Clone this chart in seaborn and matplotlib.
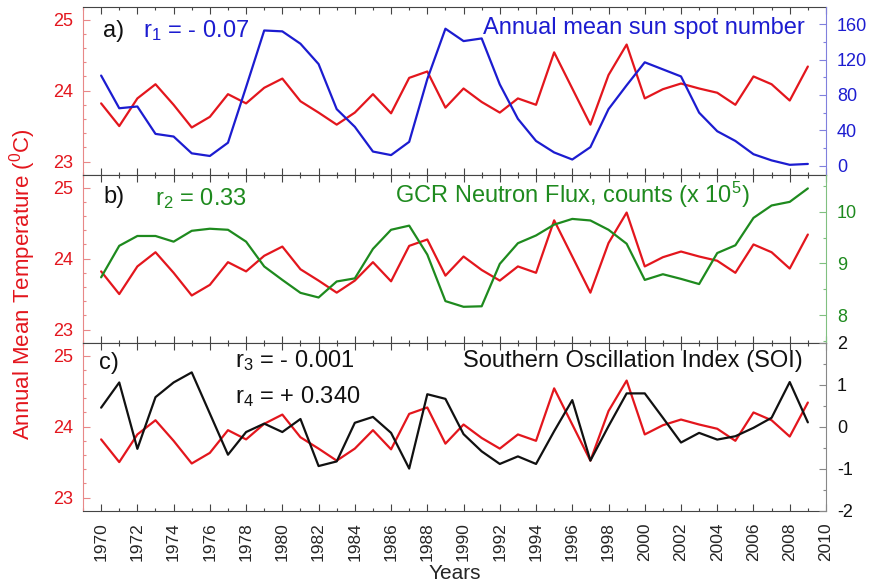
import matplotlib
matplotlib.use("Agg")
import matplotlib.pyplot as plt
from matplotlib.ticker import MultipleLocator
import seaborn as sns

# Values
years = list(range(1970, 2010))
temperature = [23.82, 23.50, 23.89, 24.09, 23.80, 23.48, 23.63, 23.95, 23.82, 24.04,
               24.17, 23.85, 23.69, 23.52, 23.69, 23.95, 23.68, 24.18, 24.27, 23.76,
               24.03, 23.84, 23.69, 23.89, 23.80, 24.54, 24.03, 23.52, 24.22, 24.65,
               23.89, 24.02, 24.10, 24.03, 23.97, 23.80, 24.20, 24.09, 23.86, 24.34]
sunspots = [102, 65, 67, 36, 33, 14, 11, 26, 89, 153,
            152, 138, 115, 64, 44, 16, 12, 27, 98, 155,
            141, 144, 92, 53, 28, 15, 7, 21, 64, 91,
            117, 109, 101, 60, 39, 28, 13, 6, 1, 2]
gcr_flux = [8.73, 9.34, 9.53, 9.53, 9.42, 9.63, 9.67, 9.65, 9.42, 8.94,
            8.68, 8.43, 8.34, 8.65, 8.71, 9.28, 9.65, 9.73, 9.17, 8.27,
            8.16, 8.17, 8.99, 9.39, 9.54, 9.75, 9.86, 9.83, 9.65, 9.38,
            8.68, 8.79, 8.70, 8.60, 9.20, 9.35, 9.88, 10.12, 10.19, 10.45]
soi = [0.46, 1.06, -0.52, 0.71, 1.06, 1.30, 0.32, -0.66, -0.12, 0.08,
       -0.12, 0.19, -0.93, -0.82, 0.10, 0.24, -0.14, -0.99, 0.78, 0.67,
       -0.17, -0.58, -0.88, -0.70, -0.88, -0.10, 0.64, -0.80, 0.02, 0.80,
       0.80, 0.22, -0.37, -0.14, -0.30, -0.22, -0.02, 0.22, 1.07, 0.11]

sns.set_style("ticks")
plt.rcParams["font.family"] = ["Liberation Sans", "DejaVu Sans"]
plt.rcParams["mathtext.default"] = "regular"
plt.rcParams["axes.unicode_minus"] = False

RED = "#e3161d"
BLUE = "#1c1cd0"
GREEN = "#1e8a1e"
BLACK = "#111111"

fig = plt.figure(figsize=(8.71, 5.86), dpi=100)
left, width, height = 0.0953, 0.853, 0.2867
bottoms = [0.7014, 0.4147, 0.128]
axes = [fig.add_axes([left, b, width, height]) for b in bottoms]

# (data, line colour, spine colour, ylim, major step, minor step)
panels = [
    (sunspots, BLUE, "#8080dd", (-10.5, 179.6), 40, 20),
    (gcr_flux, GREEN, "#80c080", (7.46, 10.71), 1, 0.5),
    (soi, BLACK, "#888888", (-2, 2), 1, 0.5),
]

for i, (ax, (data, col, spine_col, ylim, major, minor)) in enumerate(zip(axes, panels)):
    sns.lineplot(x=years, y=temperature, ax=ax, color=RED, lw=1.6)
    ax.set_xlim(1969, 2010)
    ax.set_ylim(22.81, 25.18)
    ax.set_yticks([23, 24, 25])
    ax.yaxis.set_minor_locator(MultipleLocator(0.2))
    ax.xaxis.set_major_locator(MultipleLocator(2))
    ax.xaxis.set_minor_locator(MultipleLocator(1))
    ax.tick_params(axis="both", which="both", direction="in", width=0.8)
    ax.tick_params(which="major", length=5)
    ax.tick_params(which="minor", length=2.5)
    ax.tick_params(axis="x", which="both", top=True, bottom=True, color="#444444",
                   labelbottom=(i == 2), labelsize=12.5, labelrotation=90, pad=8)
    ax.tick_params(axis="y", which="both", color="#e88888", labelcolor=RED,
                   labelsize=13, pad=7)
    ax.spines["right"].set_visible(False)
    ax.spines["left"].set_color("#e88888")
    ax.spines["top"].set_color("#444444")
    ax.spines["bottom"].set_color("#444444")

    twin = ax.twinx()
    sns.lineplot(x=years, y=data, ax=twin, color=col, lw=1.6)
    twin.set_ylim(*ylim)
    twin.yaxis.set_major_locator(MultipleLocator(major))
    twin.yaxis.set_minor_locator(MultipleLocator(minor))
    twin.tick_params(axis="y", which="both", direction="in", width=0.8,
                     color=spine_col, labelcolor=col, labelsize=13, pad=8)
    twin.tick_params(axis="y", which="major", length=5)
    twin.tick_params(axis="y", which="minor", length=2.5)
    for side in ["left", "top", "bottom"]:
        twin.spines[side].set_visible(False)
    twin.spines["right"].set_color(spine_col)
    twin.spines["right"].set_visible(True)

fs = 17
a, b, c = axes
a.text(0.027, 0.823, "a)", transform=a.transAxes, fontsize=fs, color=BLACK)
a.text(0.081, 0.823, "r$_1$ = - 0.07", transform=a.transAxes, fontsize=fs, color=BLUE)
a.text(0.972, 0.837, "Annual mean sun spot number", transform=a.transAxes,
       fontsize=fs, color=BLUE, ha="right")

b.text(0.027, 0.835, "b)", transform=b.transAxes, fontsize=fs, color=BLACK)
b.text(0.097, 0.821, "r$_2$ = 0.33", transform=b.transAxes, fontsize=fs, color=GREEN)
b.text(0.898, 0.835, "GCR Neutron Flux, counts (x 10$^5$)", transform=b.transAxes,
       fontsize=fs, color=GREEN, ha="right")

c.text(0.022, 0.845, "c)", transform=c.transAxes, fontsize=fs, color=BLACK)
c.text(0.2046, 0.855, "r$_3$ = - 0.001", transform=c.transAxes, fontsize=fs, color=BLACK)
c.text(0.2046, 0.641, "r$_4$ = + 0.340", transform=c.transAxes, fontsize=fs, color=BLACK)
c.text(0.969, 0.855, "Southern Oscillation Index (SOI)", transform=c.transAxes,
       fontsize=fs, color=BLACK, ha="right")

c.set_xlabel("Years", fontsize=15, labelpad=2)
fig.text(0.026, 0.249, "Annual Mean Temperature ($^0$C)", rotation=90, color=RED,
         fontsize=16, ha="center", va="bottom")

fig.savefig("out.png", dpi=100)
